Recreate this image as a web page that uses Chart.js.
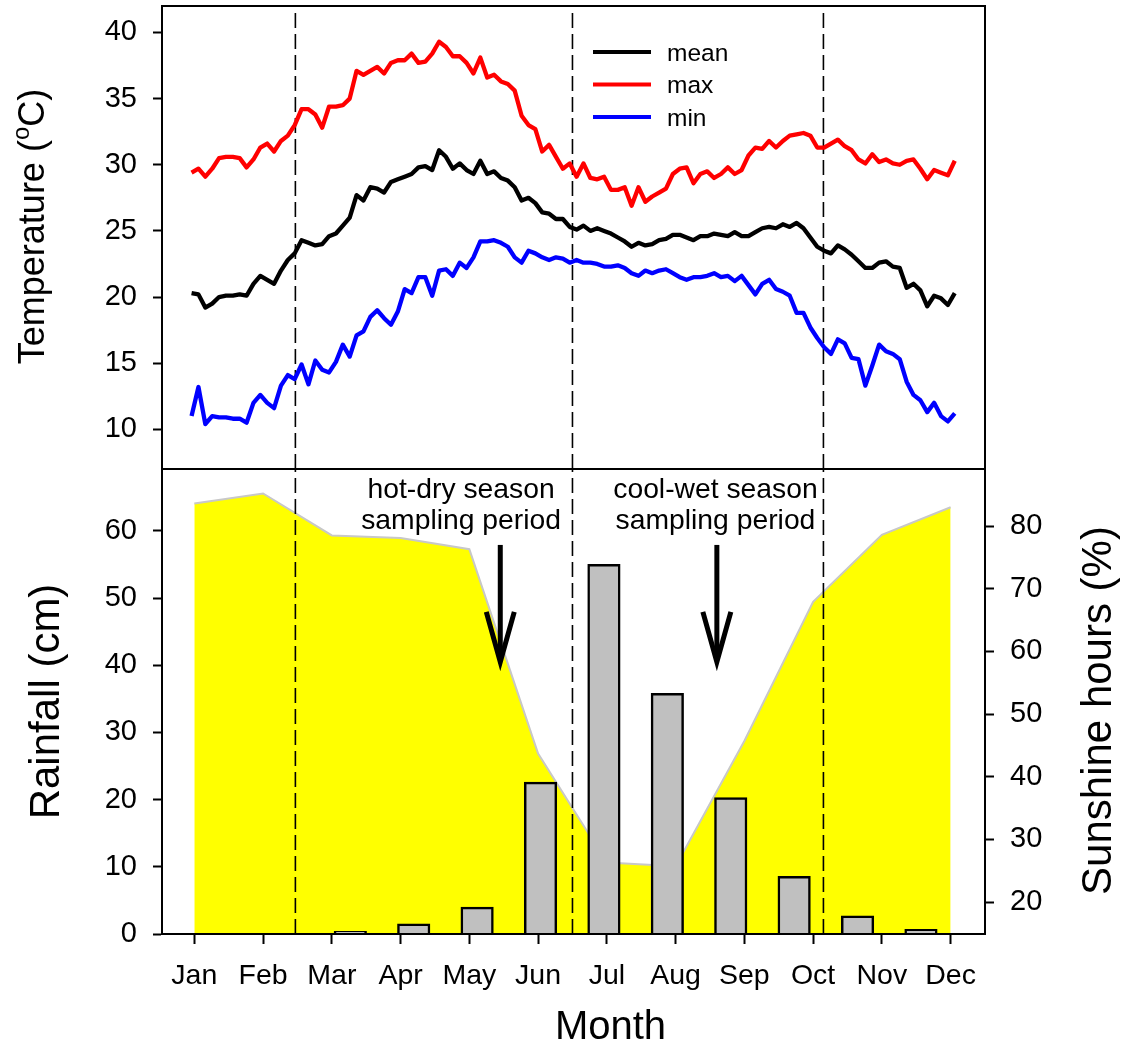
<!DOCTYPE html>
<html>
<head>
<meta charset="utf-8">
<script src="https://cdn.jsdelivr.net/npm/chart.js@4.4.1/dist/chart.umd.min.js"></script>
<style>
html,body{margin:0;padding:0;background:#fff;}
#wrap{position:relative;width:1125px;height:1046px;overflow:hidden;}
#topChart{position:absolute;left:0;top:0;}
#bottomChart{position:absolute;left:0;top:469px;}
</style>
</head>
<body>
<div id="wrap">
<canvas id="topChart" width="1125" height="470"></canvas>
<canvas id="bottomChart" width="1125" height="577"></canvas>
</div>
<script>
// ---------------- DATA ----------------
const months = ['Jan','Feb','Mar','Apr','May','Jun','Jul','Aug','Sep','Oct','Nov','Dec'];
const tempTicks = [10, 15, 20, 25, 30, 35, 40];
const rainTicks = [0, 10, 20, 30, 40, 50, 60];
const sunTicks = [20, 30, 40, 50, 60, 70, 80];

// daily temperature traces, read every 0.1 month (month index units, Jan = 0)
const tempStartMonth = -0.04;
const tempStepMonth = 0.1;

const meanTemp = [20.3,20.2,19.2,19.5,20.0,20.1,20.1,20.2,20.1,21.0,
  21.6,21.3,21.0,22.0,22.8,23.3,24.3,24.1,23.9,24.0,
  24.6,24.8,25.4,26.0,27.7,27.3,28.3,28.2,27.9,28.7,
  28.9,29.1,29.3,29.8,29.9,29.6,31.1,30.6,29.7,30.1,
  29.6,29.3,30.3,29.3,29.5,29.0,28.8,28.3,27.3,27.5,
  27.1,26.4,26.3,25.9,25.9,25.3,25.1,25.4,25.0,25.2,
  25.0,24.8,24.5,24.2,23.8,24.1,23.9,24.0,24.3,24.4,
  24.7,24.7,24.5,24.3,24.6,24.6,24.8,24.7,24.6,24.9,
  24.6,24.6,24.9,25.2,25.3,25.2,25.5,25.3,25.6,25.2,
  24.5,23.8,23.5,23.3,23.9,23.6,23.2,22.7,22.2,22.2,
  22.6,22.7,22.3,22.2,20.7,21.0,20.5,19.3,20.1,19.9,
  19.4,20.3];

const maxTemp = [29.4,29.7,29.1,29.7,30.5,30.6,30.6,30.5,29.8,30.4,
  31.3,31.6,31.0,31.8,32.2,33.0,34.2,34.2,33.8,32.8,
  34.4,34.4,34.5,35.0,37.1,36.8,37.1,37.4,36.9,37.7,
  37.9,37.9,38.4,37.7,37.8,38.4,39.3,38.9,38.2,38.2,
  37.7,36.9,38.1,36.6,36.8,36.3,36.1,35.6,33.7,33.0,
  32.7,31.0,31.5,30.6,29.7,30.1,29.1,30.1,29.0,28.9,
  29.1,28.1,28.1,28.3,26.9,28.3,27.2,27.6,27.9,28.2,
  29.3,29.7,29.8,28.6,29.3,29.5,29.0,29.3,29.8,29.3,
  29.6,30.7,31.3,31.2,31.8,31.3,31.8,32.2,32.3,32.4,
  32.2,31.3,31.3,31.6,31.9,31.4,31.1,30.4,30.1,30.8,
  30.2,30.4,30.1,30.0,30.3,30.4,29.7,28.9,29.6,29.4,
  29.2,30.3];

const minTemp = [11.0,13.2,10.4,11.0,10.9,10.9,10.8,10.8,10.5,12.0,
  12.6,12.0,11.6,13.3,14.1,13.8,14.9,13.4,15.2,14.5,
  14.3,15.1,16.4,15.5,17.1,17.4,18.5,19.0,18.4,17.9,
  18.9,20.6,20.3,21.5,21.5,20.1,22.0,22.1,21.6,22.6,
  22.2,23.0,24.2,24.2,24.3,24.1,23.8,23.0,22.6,23.5,
  23.3,23.0,22.8,23.0,22.9,22.6,22.8,22.6,22.6,22.5,
  22.3,22.3,22.4,22.2,21.8,21.6,22.0,21.8,22.0,22.1,
  21.8,21.5,21.3,21.5,21.5,21.6,21.8,21.5,21.6,21.2,
  21.6,20.9,20.2,21.0,21.3,20.6,20.4,20.1,18.8,18.8,
  17.7,16.9,16.2,15.7,16.8,16.5,15.4,15.3,13.3,14.8,
  16.4,15.9,15.7,15.3,13.6,12.6,12.2,11.3,12.0,11.0,
  10.6,11.2];

const rainfall = [0, 0, 0.4, 1.5, 4.0, 22.6, 55.0, 35.8, 20.3, 8.6, 2.7, 0.7];      // cm
const sunshine = [83.6, 85.2, 78.5, 78.1, 76.3, 43.7, 26.3, 25.7, 45.7, 67.9, 78.6, 83.0]; // %

const seasonBoundaries = [1.47, 5.5, 9.15];   // month index units
const samplingArrows = [4.45, 7.6];           // month index units
const seasonTexts = [
  ['hot-dry season', 'sampling period'],
  ['cool-wet season', 'sampling period']
];

// ---------------- STYLE ----------------
const FONT = "'Liberation Sans', Arial, Helvetica, sans-serif";
Chart.defaults.font.family = FONT;
Chart.defaults.color = '#000';

const tickGrid = {display:true, drawOnChartArea:false, drawTicks:true, tickLength:9, tickWidth:2, tickColor:'#000'};
const axisBorder = {display:true, color:'#000', width:2};
const setTicks = arr => (s => { s.ticks = arr.map(v => ({value: v})); });
const noEdgePadding = (extra) => (s => {
  s.paddingTop = 0; s.paddingBottom = 0; s.paddingLeft = 0; s.paddingRight = 0;
  extra(s);
});

const framePlugin = {
  id: 'frame',
  afterDraw(chart) {
    const {ctx, chartArea: a} = chart;
    ctx.save();
    ctx.strokeStyle = '#000';
    ctx.lineWidth = 2;
    ctx.strokeRect(a.left, a.top, a.right - a.left, a.bottom - a.top);
    ctx.restore();
  }
};

// y-axis title with a superscript "o" in "(oC)"
const superTitle = {
  id: 'superTitle',
  afterDraw(chart, args, o) {
    const {ctx, chartArea: a} = chart;
    ctx.save();
    ctx.fillStyle = '#000';
    ctx.textBaseline = 'middle';
    ctx.textAlign = 'left';
    const big = o.size + 'px ' + FONT, small = Math.round(o.size * 0.66) + 'px ' + FONT;
    ctx.font = big;
    const w1 = ctx.measureText(o.before).width, w3 = ctx.measureText(o.after).width;
    ctx.font = small;
    const w2 = ctx.measureText(o.sup).width;
    const total = w1 + w2 + w3;
    ctx.translate(o.x, (a.top + a.bottom) / 2 + o.shift);
    ctx.rotate(-Math.PI / 2);
    let x = -total / 2;
    ctx.font = big; ctx.fillText(o.before, x, 0); x += w1;
    ctx.font = small; ctx.fillText(o.sup, x, -o.size * 0.33); x += w2;
    ctx.font = big; ctx.fillText(o.after, x, 0);
    ctx.restore();
  }
};

const insideLegend = {
  id: 'insideLegend',
  afterDatasetsDraw(chart, args, o) {
    const {ctx, chartArea: a} = chart;
    ctx.save();
    ctx.font = o.size + 'px ' + FONT;
    ctx.textAlign = 'left';
    ctx.textBaseline = 'middle';
    chart.data.datasets.filter(d => d.inLegend).forEach((d, k) => {
      const y = a.top + o.top + k * o.spacing;
      ctx.strokeStyle = d.borderColor;
      ctx.lineWidth = 4;
      ctx.beginPath();
      ctx.moveTo(a.left + o.left, y);
      ctx.lineTo(a.left + o.left + o.lineLen, y);
      ctx.stroke();
      ctx.fillStyle = '#000';
      ctx.fillText(d.label, a.left + o.left + o.lineLen + o.gap, y + 2);
    });
    ctx.restore();
  }
};

const seasonNotes = {
  id: 'seasonNotes',
  afterDatasetsDraw(chart, args, o) {
    const {ctx} = chart;
    const xs = chart.scales.x, ys = chart.scales.yRain;
    ctx.save();
    ctx.strokeStyle = '#000';
    ctx.lineWidth = 5;
    ctx.lineCap = 'butt';
    ctx.lineJoin = 'miter';
    samplingArrows.forEach(m => {
      const x = xs.getPixelForValue(m);
      const y0 = ys.getPixelForValue(o.arrowFrom);
      const y1 = ys.getPixelForValue(o.arrowTo);
      ctx.beginPath();
      ctx.moveTo(x, y0);
      ctx.lineTo(x, y1 - 4);
      ctx.stroke();
      ctx.beginPath();
      ctx.moveTo(x - o.headHalf, y1 - o.headLen);
      ctx.lineTo(x, y1);
      ctx.lineTo(x + o.headHalf, y1 - o.headLen);
      ctx.stroke();
    });
    ctx.fillStyle = '#000';
    ctx.font = o.size + 'px ' + FONT;
    ctx.textAlign = 'center';
    ctx.textBaseline = 'middle';
    seasonTexts.forEach((lines, k) => {
      const x = xs.getPixelForValue(o.textMonths[k]);
      lines.forEach((t, j) => ctx.fillText(t, x, ys.getPixelForValue(o.textRows[j])));
    });
    ctx.restore();
  }
};

const extraTitles = {
  id: 'extraTitles',
  afterDraw(chart, args, o) {
    const {ctx, chartArea: a} = chart;
    ctx.save();
    ctx.fillStyle = '#000';
    ctx.textAlign = 'center';
    ctx.textBaseline = 'middle';
    ctx.font = o.rightSize + 'px ' + FONT;
    ctx.translate(o.rightX, (a.top + a.bottom) / 2 + o.rightShift);
    ctx.rotate(-Math.PI / 2);
    ctx.fillText(o.rightText, 0, 0);
    ctx.restore();
    ctx.save();
    ctx.fillStyle = '#000';
    ctx.textAlign = 'center';
    ctx.textBaseline = 'middle';
    ctx.font = o.bottomSize + 'px ' + FONT;
    ctx.fillText(o.bottomText, (a.left + a.right) / 2 + o.bottomShift, o.bottomY);
    ctx.restore();
  }
};

// ---------------- TOP PANEL ----------------
const tempPoints = vals => vals.map((v, i) => ({x: tempStartMonth + i * tempStepMonth, y: v}));
const tempMin = 7, tempMax = 42;
const rainMin = 0, rainMax = 69.2;

const boundaryDatasets = (yMinV, yMaxV, yAxisID) => seasonBoundaries.map(b => ({
  type: 'line',
  data: [{x: b, y: yMinV}, {x: b, y: yMaxV}],
  yAxisID: yAxisID,
  xAxisID: 'x',
  borderColor: '#000',
  borderWidth: 1.6,
  borderDash: [15, 6],
  pointRadius: 0,
  fill: false,
  order: 1
}));

new Chart(document.getElementById('topChart'), {
  type: 'line',
  data: {
    datasets: [
      {label: 'mean', data: tempPoints(meanTemp), borderColor: '#000000', inLegend: true},
      {label: 'max',  data: tempPoints(maxTemp),  borderColor: '#ff0000', inLegend: true},
      {label: 'min',  data: tempPoints(minTemp),  borderColor: '#0000ff', inLegend: true}
    ].map(d => Object.assign(d, {borderWidth: 4.3, pointRadius: 0, tension: 0, fill: false, yAxisID: 'y', order: 0, borderJoinStyle: 'round'}))
     .concat(boundaryDatasets(tempMin, tempMax, 'y'))
  },
  options: {
    responsive: false,
    animation: false,
    devicePixelRatio: 1,
    layout: {padding: {top: 6, right: 140, bottom: 1, left: 0}},
    plugins: {
      legend: {display: false},
      tooltip: {enabled: false},
      insideLegend: {left: 431, top: 46, spacing: 32.5, lineLen: 58, gap: 16, size: 24.5},
      superTitle: {before: 'Temperature (', sup: 'o', after: 'C)', size: 36, x: 34, shift: -11}
    },
    scales: {
      x: {type: 'linear', min: -0.47, max: 11.5, display: false, offset: false},
      y: {
        type: 'linear', min: tempMin, max: tempMax,
        afterBuildTicks: setTicks(tempTicks),
        ticks: {font: {size: 29}, padding: 16, color: '#000'},
        grid: tickGrid, border: axisBorder,
        title: {display: false, text: 'Temperature (°C)'},
        afterFit: noEdgePadding(s => { s.width = 162; })
      }
    }
  },
  plugins: [framePlugin, insideLegend, superTitle]
});

// ---------------- BOTTOM PANEL ----------------
new Chart(document.getElementById('bottomChart'), {
  type: 'line',
  data: {
    datasets: [
      {
        type: 'line', label: 'Sunshine hours',
        data: sunshine.map((v, i) => ({x: i, y: v})),
        xAxisID: 'x', yAxisID: 'ySun',
        borderColor: '#c8c8c8', borderWidth: 2, backgroundColor: '#ffff00',
        fill: 'start', pointRadius: 0, tension: 0, order: 3
      },
      {
        type: 'bar', label: 'Rainfall',
        data: rainfall.map((v, i) => ({x: i, y: v})),
        xAxisID: 'xBar', yAxisID: 'yRain',
        backgroundColor: '#c0c0c0', borderColor: '#000', borderWidth: 2.5,
        grouped: false, barThickness: 32.5, order: 2
      }
    ].concat(boundaryDatasets(rainMin, rainMax, 'yRain'))
  },
  options: {
    responsive: false,
    animation: false,
    devicePixelRatio: 1,
    layout: {padding: 0},
    plugins: {
      legend: {display: false},
      tooltip: {enabled: false},
      seasonNotes: {arrowFrom: 57.9, arrowTo: 40.5, headHalf: 14, headLen: 50, size: 28.3,
                    textMonths: [3.88, 7.58], textRows: [66.1, 61.4]},
      extraTitles: {rightText: 'Sunshine hours (%)', rightSize: 42, rightX: 1099, rightShift: 9,
                    bottomText: 'Month', bottomSize: 40, bottomShift: 37, bottomY: 559}
    },
    scales: {
      x: {
        type: 'linear', position: 'bottom', min: -0.47, max: 11.5, offset: false,
        afterBuildTicks: setTicks(months.map((m, i) => i)),
        ticks: {autoSkip: false, maxRotation: 0, font: {size: 28.5}, padding: 15, color: '#000',
                callback: v => months[v] !== undefined ? months[v] : ''},
        grid: Object.assign({}, tickGrid, {tickLength: 10, offset: false}), border: axisBorder,
        afterFit: noEdgePadding(s => { s.height = 112; })
      },
      xBar: {type: 'linear', display: false, min: -0.97, max: 12.01, offset: false,
             afterBuildTicks: setTicks(months.map((m, i) => i)), grid: {offset: false}},
      yRain: {
        type: 'linear', position: 'left', min: rainMin, max: rainMax,
        afterBuildTicks: setTicks(rainTicks),
        ticks: {font: {size: 29}, padding: 16, color: '#000'},
        grid: tickGrid, border: axisBorder,
        title: {display: true, text: 'Rainfall (cm)', font: {size: 42}, color: '#000', padding: {top: 22, bottom: 0}},
        afterFit: noEdgePadding(s => { s.width = 162; })
      },
      ySun: {
        type: 'linear', position: 'right', min: 14.9, max: 89.1,
        afterBuildTicks: setTicks(sunTicks),
        ticks: {font: {size: 29}, padding: 16, color: '#000'},
        grid: tickGrid, border: axisBorder,
        afterFit: noEdgePadding(s => { s.width = 140; })
      }
    }
  },
  plugins: [framePlugin, seasonNotes, extraTitles]
});
</script>
</body>
</html>
